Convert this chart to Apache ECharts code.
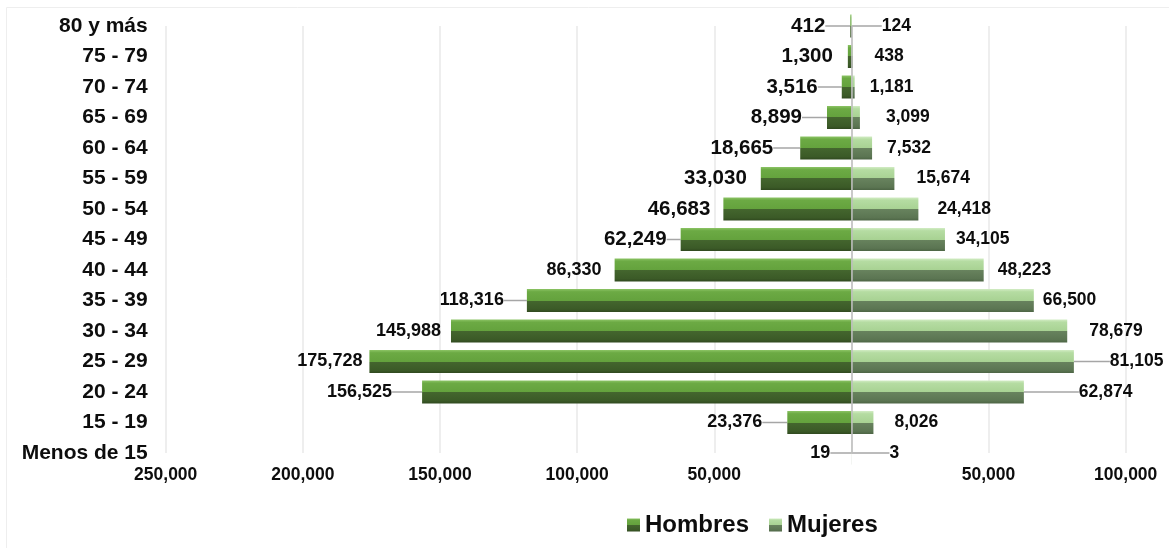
<!DOCTYPE html>
<html>
<head>
<meta charset="utf-8">
<script src="https://cdn.jsdelivr.net/npm/echarts@6/dist/echarts.min.js"></script>
<style>
  html, body { margin: 0; padding: 0; background: #ffffff; }
  #chart { width: 1169px; height: 548px; }
</style>
</head>
<body>
<div id="chart"></div>
<script>
// Categories listed bottom to top
const categories = ['Menos de 15', '15 - 19', '20 - 24', '25 - 29', '30 - 34', '35 - 39', '40 - 44',
  '45 - 49', '50 - 54', '55 - 59', '60 - 64', '65 - 69', '70 - 74', '75 - 79', '80 y más'];
const hombres = [19, 23376, 156525, 175728, 145988, 118316, 86330, 62249, 46683, 33030, 18665, 8899, 3516, 1300, 412];
const mujeres = [3, 8026, 62874, 81105, 78679, 66500, 48223, 34105, 24418, 15674, 7532, 3099, 1181, 438, 124];
const seriesNames = ['Hombres', 'Mujeres'];
const axisMin = -250000, axisMax = 100000, axisStep = 50000;

// label styling (gap from bar end, leader line flags)
const hombresLabelGap = [21, 25, 30, 7, 10, 23, 13, 14, 13, 14, 27, 25, 24, 15, 25];
const hombresLeader   = [1, 1, 1, 0, 0, 1, 0, 1, 0, 0, 1, 1, 1, 0, 1];
const mujeresLabelGap = [38, 21, 55, 36, 22, 9, 14, 11, 19, 22, 15, 26, 15, 22, 30];
const mujeresLeader   = [1, 0, 1, 1, 0, 0, 0, 0, 0, 0, 0, 0, 0, 0, 1];

const FONT = "'Liberation Sans', Arial, sans-serif";
const fmt = v => Math.abs(v).toLocaleString('en-US');

const menColor = new echarts.graphic.LinearGradient(0, 0, 0, 1, [
  { offset: 0, color: '#8cc465' }, { offset: 0.12, color: '#6caa44' },
  { offset: 0.5, color: '#64a23d' }, { offset: 0.5, color: '#44662e' },
  { offset: 0.88, color: '#3b5a27' }, { offset: 1, color: '#30491f' }
]);
const womenColor = new echarts.graphic.LinearGradient(0, 0, 0, 1, [
  { offset: 0, color: '#d2ecc4' }, { offset: 0.12, color: '#b5dca2' },
  { offset: 0.5, color: '#a8d293' }, { offset: 0.5, color: '#68835e' },
  { offset: 0.88, color: '#5b7552' }, { offset: 1, color: '#4d6545' }
]);

const leaderStyle = { show: true, lineStyle: { color: '#a6a6a6', width: 1.5 }, length2: 0 };

const chart = echarts.init(document.getElementById('chart'), null, { renderer: 'canvas' });
chart.setOption({
  animation: false,
  backgroundColor: '#ffffff',
  textStyle: { fontFamily: FONT },
  graphic: [{
    type: 'rect', left: 4, top: 5, shape: { width: 1200, height: 600 },
    style: { fill: 'none', stroke: '#eeeeee', lineWidth: 1 }, silent: true, z: -10
  }],
  legend: {
    data: seriesNames,
    left: 627, top: 513, padding: 0,
    icon: 'rect', itemWidth: 13, itemHeight: 13, itemGap: 20,
    textStyle: { fontFamily: FONT, fontSize: 24, fontWeight: 'bold', color: '#0d0d0d' }
  },
  grid: { left: 165.7, right: 43.3, top: 26, bottom: 95, containLabel: false },
  xAxis: {
    type: 'value', min: axisMin, max: axisMax, interval: axisStep,
    axisLine: { show: false }, axisTick: { show: false },
    splitLine: { show: true, lineStyle: { color: '#e9e9e9', width: 1.5 } },
    axisLabel: {
      margin: 13, fontFamily: FONT, fontSize: 17.5, fontWeight: 'bold', color: '#0d0d0d',
      formatter: v => v === 0 ? '' : fmt(v)
    }
  },
  yAxis: {
    type: 'category', data: categories, boundaryGap: false,
    axisLine: { show: false }, axisTick: { show: false }, splitLine: { show: false },
    axisLabel: { interval: 0, margin: 18, fontFamily: FONT, fontSize: 21, fontWeight: 'bold', color: '#0d0d0d' }
  },
  series: [
    {
      name: seriesNames[0], type: 'bar', barWidth: 23, barGap: '-100%',
      itemStyle: { color: menColor },
      data: hombres.map((v, i) => ({ value: -v, labelLine: hombresLeader[i] ? leaderStyle : { show: false } })),
      label: {
        show: true, position: 'left', distance: 0,
        formatter: p => (p.dataIndex >= 7 ? '{b|' : '{s|') + fmt(p.value) + '}',
        rich: {
          b: { fontFamily: FONT, fontSize: 20.5, fontWeight: 'bold', color: '#0d0d0d' },
          s: { fontFamily: FONT, fontSize: 18, fontWeight: 'bold', color: '#0d0d0d' }
        }
      },
      labelLayout: p => ({ dx: -hombresLabelGap[p.dataIndex] })
    },
    {
      name: seriesNames[1], type: 'bar', barWidth: 23, barGap: '-100%',
      itemStyle: { color: womenColor },
      data: mujeres.map((v, i) => ({ value: v, labelLine: mujeresLeader[i] ? leaderStyle : { show: false } })),
      label: {
        show: true, position: 'right', distance: 0,
        fontFamily: FONT, fontSize: 17.5, fontWeight: 'bold', color: '#0d0d0d',
        formatter: p => fmt(p.value)
      },
      labelLayout: p => ({ dx: mujeresLabelGap[p.dataIndex] }),
      markLine: {
        silent: true, symbol: 'none', label: { show: false },
        lineStyle: { color: '#bdbdbd', width: 1.5, type: 'solid' },
        data: [{ xAxis: 0 }]
      }
    }
  ]
});
</script>
</body>
</html>
